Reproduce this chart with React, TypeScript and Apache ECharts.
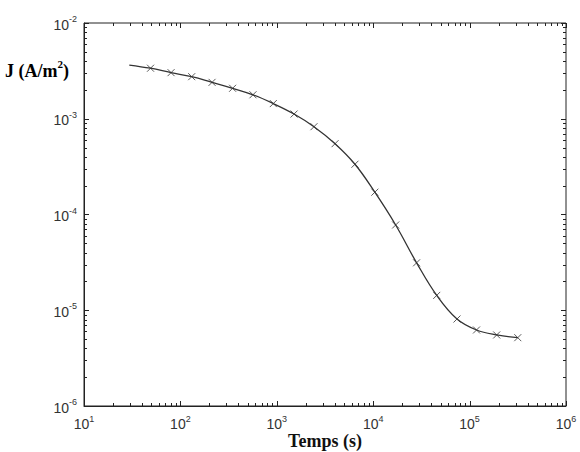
import React, { useEffect, useRef } from "react";
import * as echarts from "echarts";

// Time (s) of curve start and marked points
const curveStart: [number, number] = [29.5, 3.64e-3];
const times = [49, 80, 131, 213, 348, 566, 920, 1510, 2430, 4020, 6470, 10400, 17100, 28200, 45600, 74000, 118000, 191000, 316000];
// Current density J (A/m^2)
const currents = [3.37e-3, 3.03e-3, 2.75e-3, 2.4e-3, 2.08e-3, 1.78e-3, 1.44e-3, 1.12e-3, 8.26e-4, 5.49e-4, 3.35e-4, 1.71e-4, 7.77e-5, 3.13e-5, 1.43e-5, 8.1e-6, 6.22e-6, 5.52e-6, 5.17e-6];

const xMin = 10;
const xMax = 1e6;
const yMin = 1e-6;
const yMax = 1e-2;
const xDecades = [1, 2, 3, 4, 5, 6];
const yDecades = [-6, -5, -4, -3, -2];
const xLabel = "Temps (s)";
const yLabelMain = "J (A/m";
const yLabelSup = "2";

// tick positions (major = decade, minor = 2..9 x decade)
const tickValues = (decades: number[]) => {
  const out: [number, number][] = [];
  decades.forEach((d, i) => {
    out.push([Math.pow(10, d), 1]);
    if (i < decades.length - 1) {
      for (let k = 2; k <= 9; k++) out.push([k * Math.pow(10, d), 0]);
    }
  });
  return out;
};

export default function App() {
  const ref = useRef<HTMLDivElement>(null);
  useEffect(() => {
    if (!ref.current) return;
    const chart = echarts.init(ref.current, undefined, { renderer: "svg" });
    const axisColor = "#222";
    const labelFont = "'Liberation Sans Narrow', 'Liberation Sans', Arial, sans-serif";
    const labelFmt = (v: number) => `{b|10}{e|${Math.round(Math.log10(v))}}`;
    const rich = {
      b: { fontSize: 14, fontFamily: labelFont, color: "#333", lineHeight: 17, verticalAlign: "bottom" },
      e: { fontSize: 9, fontFamily: labelFont, color: "#333", lineHeight: 8, verticalAlign: "top" },
    };
    const lineData = [curveStart, ...times.map((t, i) => [t, currents[i]])];
    const pointData = times.map((t, i) => [t, currents[i]]);
    const xTicks = tickValues(xDecades).map(([v, m]) => [v, yMin, m]);
    const yTicks = tickValues(yDecades).map(([v, m]) => [xMin, v, m]);
    const tickStyle = { stroke: axisColor, lineWidth: 1 };
    const serif = "'Liberation Serif', 'Times New Roman', serif";

    chart.setOption({
      animation: false,
      backgroundColor: "#fff",
      grid: { left: 84, right: 14, top: 23, bottom: 46, containLabel: false, outerBoundsMode: "none", show: true, borderColor: axisColor, borderWidth: 1, backgroundColor: "transparent" },
      xAxis: {
        type: "log",
        min: xMin,
        max: xMax,
        position: "bottom",
        axisLine: { show: true, lineStyle: { color: axisColor, width: 1 } },
        axisTick: { show: false },
        axisLabel: { formatter: labelFmt, rich, margin: 8, showMinLabel: true, showMaxLabel: true },
        splitLine: { show: false },
      },
      yAxis: {
        type: "log",
        min: yMin,
        max: yMax,
        position: "left",
        axisLine: { show: true, lineStyle: { color: axisColor, width: 1 } },
        axisTick: { show: false },
        axisLabel: { formatter: labelFmt, rich, margin: 7, showMinLabel: true, showMaxLabel: true },
        splitLine: { show: false },
      },
      graphic: [
        {
          type: "text",
          left: 5,
          top: 58,
          style: {
            text: `{a|${yLabelMain}}{s|${yLabelSup}}{a|)}`,
            rich: {
              a: { fontFamily: serif, fontWeight: "bold", fontSize: 18, color: "#111", lineHeight: 22, verticalAlign: "bottom" },
              s: { fontFamily: serif, fontWeight: "bold", fontSize: 11, color: "#111", lineHeight: 6, verticalAlign: "top" },
            },
          },
        },
        {
          type: "text",
          x: 325,
          y: 441,
          style: {
            text: xLabel,
            fontFamily: serif,
            fontWeight: "bold",
            fontSize: 18,
            fill: "#111",
            align: "center",
            verticalAlign: "middle",
          },
        },
      ],
      series: [
        {
          type: "custom",
          coordinateSystem: "cartesian2d",
          silent: true,
          clip: false,
          data: xTicks,
          renderItem: (params: any, api: any) => {
            const cs = params.coordSys;
            const p = api.coord([api.value(0), api.value(1)]);
            const len = api.value(2) ? 5 : 3;
            const x = Math.round(p[0]) + 0.5;
            const yb = cs.y + cs.height;
            return {
              type: "group",
              children: [
                { type: "line", shape: { x1: x, y1: yb, x2: x, y2: yb - len }, style: tickStyle },
                { type: "line", shape: { x1: x, y1: cs.y, x2: x, y2: cs.y + len }, style: tickStyle },
              ],
            };
          },
        },
        {
          type: "custom",
          coordinateSystem: "cartesian2d",
          silent: true,
          clip: false,
          data: yTicks,
          renderItem: (params: any, api: any) => {
            const cs = params.coordSys;
            const p = api.coord([api.value(0), api.value(1)]);
            const len = api.value(2) ? 5 : 3;
            const y = Math.round(p[1]) + 0.5;
            const xr = cs.x + cs.width;
            return {
              type: "group",
              children: [
                { type: "line", shape: { x1: cs.x, y1: y, x2: cs.x + len, y2: y }, style: tickStyle },
                { type: "line", shape: { x1: xr, y1: y, x2: xr - len, y2: y }, style: tickStyle },
              ],
            };
          },
        },
        {
          type: "line",
          data: lineData,
          smooth: 0.4,
          showSymbol: false,
          lineStyle: { color: "#333", width: 1.3 },
          silent: true,
        },
        {
          type: "scatter",
          data: pointData,
          symbol: "path://M0,0L10,10M10,0L0,10",
          symbolSize: 7,
          itemStyle: { color: "none", borderColor: "#333", borderWidth: 1 },
          silent: true,
        },
      ],
    });
    return () => chart.dispose();
  }, []);
  return <div ref={ref} style={{ position: "fixed", left: 0, top: 0, width: 580, height: 452, background: "#fff" }} />;
}
